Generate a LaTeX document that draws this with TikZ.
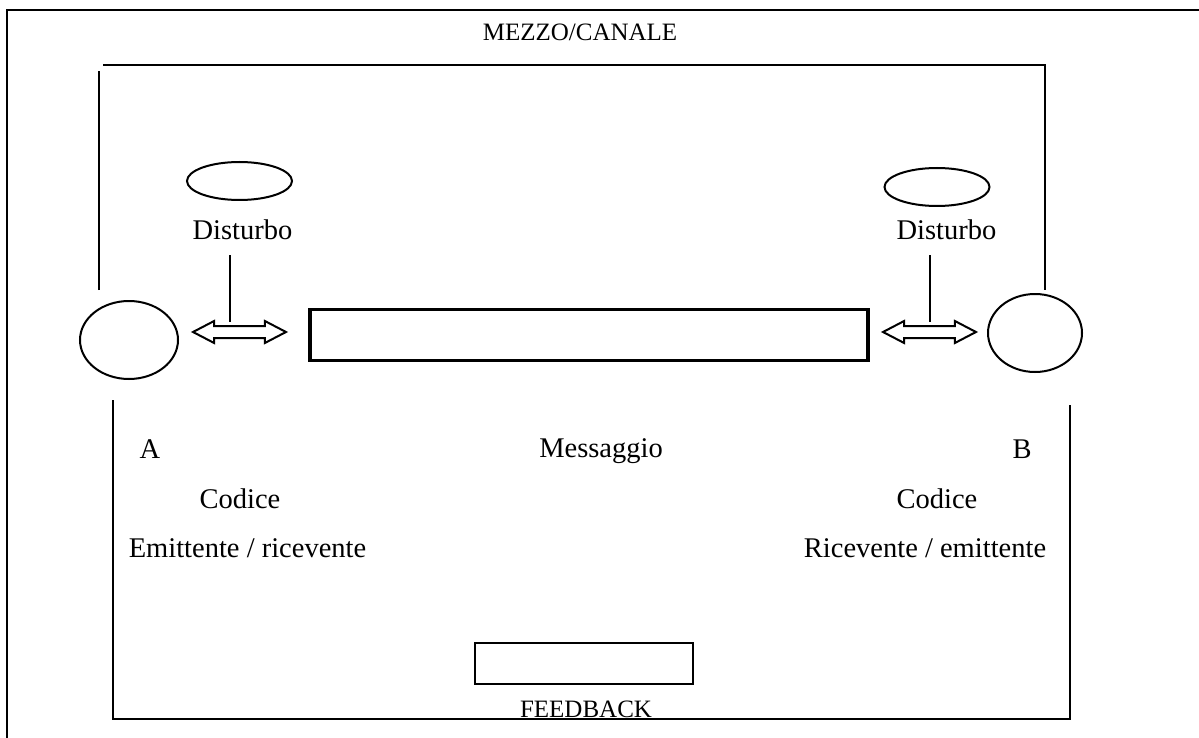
\documentclass[tikz,border=0pt]{standalone}
\usepackage{fontspec}
\setmainfont{Liberation Serif}
\usetikzlibrary{shapes.geometric,shapes.arrows,calc}
\begin{document}
\begin{tikzpicture}[x=1pt,y=-1pt,
  line/.style={line width=2pt},
  lbl/.style={font=\fontsize{28.5}{34}\selectfont, anchor=base, inner sep=0pt},
  small/.style={font=\fontsize{25}{30}\selectfont, anchor=base, inner sep=0pt},
  party/.style={draw, line width=2pt, ellipse, inner sep=0pt},
  noise/.style={draw, line width=2pt, ellipse, inner sep=0pt, minimum width=105pt, minimum height=38pt},
  link/.style={draw, line width=2pt, double arrow, double arrow tip angle=55,
    double arrow head extend=5pt, inner xsep=0pt, inner ysep=5pt, minimum height=93pt},
  box/.style={draw, inner sep=0pt}
]
\useasboundingbox (0,0) rectangle (1199,738);

% outer frame
\draw[line] (7,738) -- (7,10) -- (1199,10);

% title of the channel
\node[small] (mezzo) at (580,41) {MEZZO/CANALE};

% sender and receiver
\node[party, minimum width=98pt, minimum height=78pt] (A) at (129,340) {};
\node[party, minimum width=94pt, minimum height=78pt] (B) at (1035,333) {};

% channel above
\coordinate (chA) at (99,290);
\coordinate (chAtop) at (99,71);
\coordinate (chTop) at (103,65);
\coordinate (chB) at (1045,290);
\draw[line] (chA) -- (chAtop);
\draw[line] (chTop) -- (chTop -| chB) -- (chB);

% noise sources
\node[noise] (noiseL) at (239.5,181) {};
\node[noise] (noiseR) at (937,187) {};
\node[lbl] (distL) at (242.5,240) {Disturbo};
\node[lbl] (distR) at (946.5,240) {Disturbo};

% message
\node[box, line width=3.5pt, minimum width=558pt, minimum height=51pt] (msg) at (589,335) {};

% two-way links
\node[link] (arrowL) at (239.5,332) {};
\node[link] (arrowR) at (929.5,332) {};
\coordinate (nL) at (230,255);
\coordinate (nR) at (930,255);
\draw[line] (nL) -- ($(nL |- arrowL.center)+(0,-10)$);
\draw[line] (nR) -- ($(nR |- arrowR.center)+(0,-10)$);

% labels
\node[lbl] (labA) at (150,458) {A};
\node[lbl] (labMsg) at (601,457) {Messaggio};
\node[lbl] (labB) at (1022,458) {B};
\node[lbl] (codA) at (240,508) {Codice};
\node[lbl] (codB) at (937,508) {Codice};
\node[lbl] (roleA) at (247.5,557) {Emittente / ricevente};
\node[lbl] (roleB) at (925,557) {Ricevente / emittente};

% feedback loop below
\node[box, line width=2pt, minimum width=218pt, minimum height=41pt] (fb) at (584,663.5) {};
\node[small] (fbl) at (586,717) {FEEDBACK};
\coordinate (fbA) at (113,400);
\coordinate (fbB) at (1070,405);
\draw[line] (fbA) -- ++(0,319) -| (fbB);
\end{tikzpicture}
\end{document}
